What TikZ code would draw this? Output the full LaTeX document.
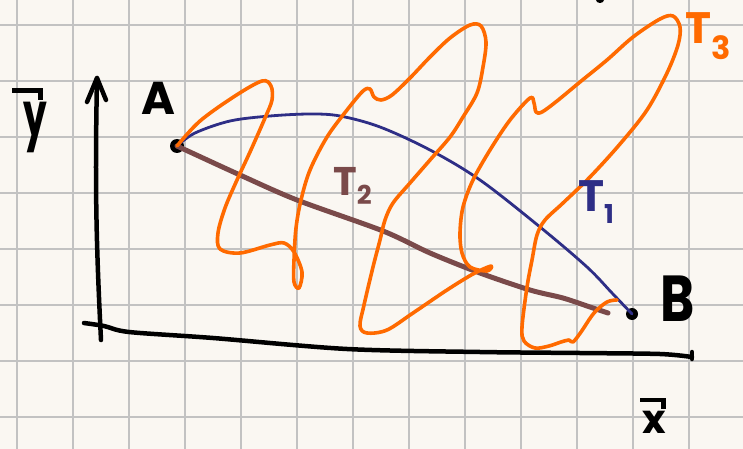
\documentclass[tikz,border=0pt]{standalone}
\usepackage{fontspec}
\setmainfont{Poppins}
\definecolor{paper}{HTML}{FAF7F2}
\definecolor{gridc}{HTML}{C2C2C2}
\definecolor{orng}{HTML}{FF6A00}
\definecolor{navy}{HTML}{2E2E86}
\definecolor{brwn}{HTML}{7A4A4A}
\newcommand{\vecbar}[3]{\makebox[0pt][l]{\hspace*{#1}\raisebox{#2}{\rule{#3}{4.5pt}\rule[-7pt]{4.5pt}{11.5pt}}}}
\tikzset{
  lbl/.style={inner sep=0pt, font=\bfseries},
  dotnode/.style={circle, fill=black, inner sep=0pt},
  axisline/.style={line width=4.5pt, line cap=round, line join=round, black},
}
\begin{document}
\begin{tikzpicture}[x=1pt,y=-1pt]
\fill[paper] (0,0) rectangle (743,449);
\useasboundingbox (0,0) rectangle (743,449);
% grid
\foreach \gx in {17,73,...,743} \draw[gridc, line width=1.4pt] (\gx,0) -- (\gx,449);
\foreach \gy in {25,81,...,449} \draw[gridc, line width=1.4pt] (0,\gy) -- (743,\gy);
% points
\node[dotnode, minimum size=14pt] (A) at (177,146) {};
\node[dotnode, minimum size=12pt] (B) at (632,314) {};
\coordinate (T2end) at (608,313);
\coordinate (T3end) at (617,300);
% axes
\coordinate (yb) at (101,340);
\coordinate (yt) at (97,78);
\draw[axisline] (yb) to[bend left=2] (yt);
\draw[axisline] (87,102) -- (yt) -- (106,100);
\coordinate (xs) at (84,323);
\coordinate (xe) at (692,357);
\draw[axisline] plot[smooth, tension=0.5] coordinates {(xs) (104,326) (129,332) (213,338) (347,349) (480,352) (580,353) (660,354) (xe)};
\draw[axisline] (692,352) -- (692,359);
% small mark at top edge
\fill[black] (600,0) ellipse (4pt and 3pt);
% T2 (brown)
\draw[brwn, line width=5pt, line cap=round] plot[smooth, tension=0.5] coordinates {(A.center) (240,175) (297,200) (383,231) (430,253) (480,273) (530,290) (563,298) (590,307) (T2end)};
% T1 (navy)
\draw[navy, line width=2.8pt, line cap=round] plot[smooth, tension=0.55] coordinates {(A.center) (195,133) (230,121) (270,116) (310,114) (340,116) (380,127) (430,150) (480,180) (540,227) (587,267) (612,293) (B.center)};
% T3 (orange)
\draw[orng, line width=3.6pt, line cap=round, line join=round] plot[smooth, tension=0.55] coordinates {
(A.center) (200,121) (235,96) (262,81) (271,86) (272,100) (265,118) (250,152) (237,180) (225,208) (218,233) (220,249) (240,253) (270,245) (284,243) (294,252) (302,272) (299,288) (294,282) (294,260) (296,228) (301,200) (310,170) (327,137) (347,110) (363,91) (370,89) (374,97) (381,100) (392,95) (410,78) (430,57) (450,38) (470,25) (481,26) (486,42) (483,67) (477,93) (463,117) (450,137) (430,160) (410,183) (393,203) (385,220) (380,240) (373,267) (364,305) (360,326) (367,333) (387,330) (413,313) (447,290) (473,274) (491,266) (487,271) (470,267) (462,253) (460,233) (463,207) (473,180) (490,150) (510,120) (530,98) (534,103) (536,112) (542,112) (557,101) (580,82) (607,60) (633,37) (660,19) (673,16) (680,27) (678,45) (667,73) (647,110) (620,144) (590,177) (563,203) (545,220) (537,235) (532,260) (527,287) (522,327) (524,341) (535,348) (549,346) (561,342) (569,340) (573,342) (581,332) (594,313) (607,302) (T3end)};
% labels
\node[lbl, font=\bfseries\fontsize{46}{46}\selectfont] (la) at (158,98) {A};
\node[lbl, font=\bfseries\fontsize{52}{52}\selectfont, yscale=1.25] (lb) at (678,299) {B};
\node[lbl, anchor=base west, font=\bfseries\fontsize{44}{44}\selectfont] (ly) at (23,137)
  {\vecbar{-11pt}{44pt}{26pt}\scalebox{0.85}[1.4]{y}};
\node[lbl, anchor=base west, text depth=0pt, font=\bfseries\fontsize{40}{40}\selectfont] (lx) at (642,433)
  {\vecbar{-2pt}{31pt}{21pt}x};
\node[lbl, text=brwn, font=\bfseries\fontsize{40}{40}\selectfont, anchor=west] (l2) at (333,186) {T\raisebox{-9pt}{\fontsize{26}{26}\selectfont 2}};
\node[lbl, text=navy, font=\bfseries\fontsize{44}{44}\selectfont, anchor=west] (l1) at (578,202) {T\raisebox{-12pt}{\fontsize{26}{26}\selectfont 1}};
\node[lbl, text=orng, font=\bfseries\fontsize{44}{44}\selectfont, anchor=west] (l3) at (685,36) {T\raisebox{-16pt}{\fontsize{32}{32}\selectfont 3}};
\end{tikzpicture}
\end{document}
